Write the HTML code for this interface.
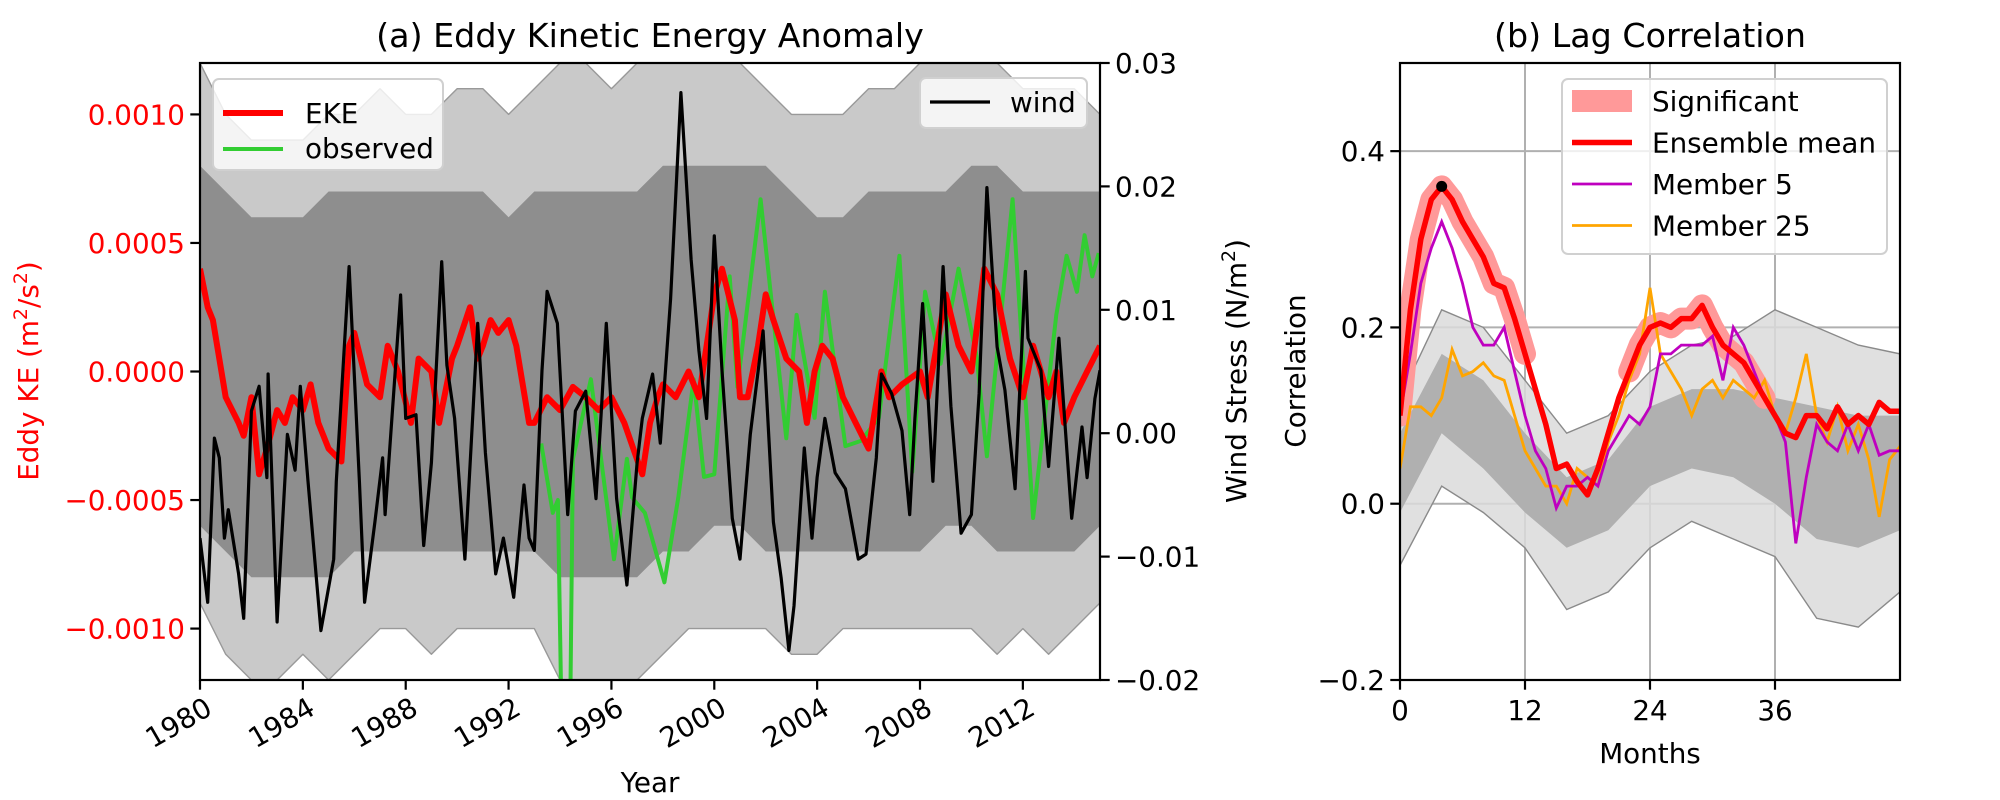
<!DOCTYPE html>
<html><head><meta charset="utf-8"><style>
html,body{margin:0;padding:0;background:#fff;}
svg{display:block;font-family:"DejaVu Sans","Liberation Sans",sans-serif;}
</style></head><body>
<svg id="fig" width="2000" height="800" viewBox="0 0 2000 800" xmlns="http://www.w3.org/2000/svg">
<rect width="2000" height="800" fill="#fff"/>
<g id="pa"></g>
<g id="pb"></g>
</svg>
<script>
// ---------- Panel (a) data ----------
const ensYears = [1980,1981,1982,1983,1984,1985,1986,1987,1988,1989,1990,1991,1992,1993,1994,1995,1996,1997,1998,1999,2000,2001,2002,2003,2004,2005,2006,2007,2008,2009,2010,2011,2012,2013,2014,2015];
const ensOuterHi = [12,10,9,9,9,10,10,11,10,10,11,11,10,11,12,12,11,12,12,12,12,12,11,10,10,10,11,11,12,12,12,12,11,11,11,10];
const ensOuterLo = [-9,-11,-12,-12,-11,-12,-11,-10,-10,-11,-10,-10,-10,-10,-12,-12,-12,-12,-11,-10,-10,-10,-10,-11,-11,-10,-10,-10,-10,-10,-10,-11,-10,-11,-10,-9];
const ensCoreHi = [8,7,6,6,6,7,7,7,7,7,7,7,6,7,7,7,7,7,8,8,8,8,8,7,6,6,7,7,7,7,8,8,7,7,7,7];
const ensCoreLo = [-6,-7,-8,-8,-8,-8,-7,-7,-7,-7,-7,-7,-7,-7,-8,-8,-8,-8,-7,-7,-6,-6,-7,-7,-7,-7,-7,-7,-7,-6,-6,-7,-7,-7,-7,-6];

const ekeT = [1980.0,1980.3,1980.5,1981.0,1981.5,1981.7,1982.0,1982.3,1982.6,1983.0,1983.3,1983.6,1984.0,1984.3,1984.6,1985.0,1985.5,1985.8,1986.0,1986.5,1987.0,1987.3,1987.7,1988.2,1988.5,1989.0,1989.3,1989.8,1990.0,1990.5,1990.8,1991.0,1991.3,1991.6,1992.0,1992.3,1992.8,1993.0,1993.5,1994.0,1994.5,1995.0,1995.5,1996.0,1996.5,1997.2,1997.5,1997.8,1998.0,1998.5,1999.0,1999.4,2000.0,2000.3,2000.8,2001.0,2001.3,2001.7,2002.0,2002.3,2002.8,2003.3,2003.6,2003.9,2004.2,2004.6,2005.0,2005.5,2006.0,2006.5,2006.8,2007.3,2008.0,2008.3,2009.0,2009.5,2010.0,2010.5,2011.0,2011.5,2012.0,2012.4,2013.0,2013.3,2013.6,2014.0,2014.5,2015.0];
const ekeV = [4,2.5,2,-1,-2,-2.5,-1,-4,-3,-1.5,-2,-1,-1.5,-0.5,-2,-3,-3.5,1,1.5,-0.5,-1,1,0,-2,0.5,0,-2,0.5,1,2.5,0.5,1,2,1.5,2,1,-2,-2,-1,-1.5,-0.6,-1,-1.5,-1,-2,-4,-2,-1,-0.5,-1,0,-1,3,4,2,-1,-1,1,3,2,0.5,0,-2,0,1,0.5,-1,-2,-3,0,-1,-0.5,0,-1,3,1,0,4,3,0.5,-1,1,-1,0,-2,-1,0,1];

const obsT = [1993.27,1993.72,1993.92,1994.05,1994.4,1994.5,1995.2,1995.6,1996.1,1996.6,1996.8,1997.3,1998.06,1998.6,1999.2,1999.6,2000.0,2000.6,2000.9,2001.8,2002.8,2003.2,2003.9,2004.3,2005.1,2005.7,2006.4,2007.2,2007.7,2008.2,2008.8,2009.5,2010.2,2010.6,2011.6,2012.4,2013.3,2013.7,2014.1,2014.4,2014.7,2014.95];
const obsV = [-2.8,-5.5,-5,-13,-13,-3.4,-0.3,-3.4,-7.3,-3.4,-4.9,-5.5,-8.2,-4.9,-0.3,-4.1,-4,3.7,-0.6,6.7,-2.6,2.2,-1.8,3.1,-2.9,-2.7,-1.8,4.5,-3.9,3.1,0.3,4,0.6,-3.3,6.7,-5.7,2.2,4.5,3.1,5.3,3.7,4.6];

const windT = [1980.0,1980.3,1980.56,1980.75,1980.95,1981.1,1981.5,1981.7,1982.0,1982.3,1982.6,1982.65,1983.0,1983.4,1983.7,1983.9,1984.2,1984.7,1985.2,1985.3,1985.8,1986.2,1986.4,1986.8,1987.1,1987.2,1987.8,1988.0,1988.4,1988.7,1989.0,1989.4,1989.6,1989.9,1990.3,1990.6,1990.8,1991.1,1991.5,1991.8,1992.2,1992.6,1992.8,1993.0,1993.3,1993.5,1993.9,1994.3,1994.6,1995.0,1995.4,1995.6,1995.8,1996.2,1996.6,1997.0,1997.2,1997.6,1997.9,1998.3,1998.7,1999.1,1999.4,1999.7,2000.0,2000.3,2000.7,2001.0,2001.4,2001.9,2002.3,2002.6,2002.9,2003.1,2003.5,2003.8,2004.0,2004.3,2004.7,2005.1,2005.6,2005.9,2006.3,2006.5,2006.9,2007.3,2007.6,2007.8,2008.1,2008.5,2008.9,2009.2,2009.6,2010.0,2010.3,2010.6,2011.0,2011.3,2011.7,2012.1,2012.2,2012.7,2013.0,2013.4,2013.9,2014.3,2014.5,2014.8,2015.0];
const windV = [-8.5,-13.7,-0.4,-2,-8.5,-6.2,-11.4,-15,1.8,3.8,-3.6,4.8,-15.3,-0.1,-3,3.8,-3.9,-16,-10.2,-3.9,13.5,-3.9,-13.7,-7.2,-2,-6.6,11.2,1.2,1.5,-9.1,-2.4,13.9,5.5,1.2,-10.2,1.2,8.9,-1.6,-11.4,-8.5,-13.3,-4.2,-8.5,-9.5,5.1,11.5,8.9,-6.6,1.8,3.4,-5.3,1.5,8.9,-5.3,-12.3,-2.4,1.2,4.8,-0.8,10.9,27.6,14.1,6.7,1.2,16,5.1,-6.9,-10.2,-0.1,8.3,-7.2,-11.7,-17.6,-14,-1.2,-8.5,-3.6,1.2,-3.2,-4.5,-10.2,-9.8,-2,4.8,3.2,0.2,-6.6,1.2,10.5,-3.9,13.5,2.2,-8.1,-6.6,3.2,19.9,7,3.5,-4.5,13.1,7.7,5.1,-2.7,7.7,-6.9,0.5,-3.6,2.8,5.1];

const yearTicks = [1980,1984,1988,1992,1996,2000,2004,2008,2012];
const ekeTicks = [-10,-5,0,5,10];
const ekeTickLabels = ["\u22120.0010","\u22120.0005","0.0000","0.0005","0.0010"];
const windTicks = [-20,-10,0,10,20,30];
const windTickLabels = ["\u22120.02","\u22120.01","0.00","0.01","0.02","0.03"];

// ---------- Panel (b) data ----------
const lags = [0,1,2,3,4,5,6,7,8,9,10,11,12,13,14,15,16,17,18,19,20,21,22,23,24,25,26,27,28,29,30,31,32,33,34,35,36,37,38,39,40,41,42,43,44,45,46,47,48];
const meanCorr = [0.10,0.22,0.30,0.345,0.36,0.345,0.32,0.30,0.28,0.25,0.245,0.21,0.17,0.13,0.09,0.04,0.045,0.025,0.01,0.04,0.08,0.12,0.15,0.18,0.20,0.205,0.20,0.21,0.21,0.225,0.20,0.18,0.17,0.16,0.14,0.12,0.10,0.08,0.075,0.10,0.10,0.085,0.11,0.09,0.10,0.09,0.115,0.105,0.105];
const significant = [1,1,1,1,1,1,1,1,1,1,1,1,1,0,0,0,0,0,0,0,0,0,1,1,1,1,1,1,1,1,1,1,1,1,1,1,0,0,0,0,0,0,0,0,0,0,0,0,0];
const member5 = [0.10,0.17,0.25,0.29,0.32,0.29,0.25,0.20,0.18,0.18,0.20,0.15,0.10,0.06,0.04,-0.005,0.02,0.02,0.03,0.02,0.06,0.08,0.10,0.09,0.11,0.17,0.17,0.18,0.18,0.18,0.19,0.14,0.20,0.18,0.15,0.12,0.10,0.07,-0.045,0.03,0.09,0.07,0.06,0.09,0.06,0.09,0.055,0.06,0.06];
const member25 = [0.04,0.11,0.11,0.10,0.12,0.175,0.145,0.15,0.16,0.145,0.14,0.10,0.06,0.04,0.02,0.02,0.00,0.04,0.03,0.02,0.07,0.10,0.14,0.17,0.245,0.17,0.15,0.13,0.10,0.13,0.14,0.12,0.14,0.13,0.12,0.14,0.10,0.08,0.12,0.17,0.10,0.07,0.11,0.06,0.09,0.05,-0.015,0.05,0.065];
const envLags = [0,4,8,12,16,20,24,28,32,36,40,44,48];
const envHi = [0.12,0.22,0.20,0.14,0.08,0.10,0.15,0.18,0.19,0.22,0.20,0.18,0.17];
const envLo = [-0.07,0.02,-0.01,-0.05,-0.12,-0.10,-0.05,-0.02,-0.04,-0.06,-0.13,-0.14,-0.10];
const envCoreHi = [0.08,0.17,0.14,0.08,0.03,0.05,0.11,0.13,0.13,0.12,0.11,0.10,0.10];
const envCoreLo = [-0.01,0.08,0.04,-0.01,-0.05,-0.03,0.02,0.04,0.03,0.00,-0.04,-0.05,-0.03];
const lagTicks = [0,12,24,36];
const corrTicks = [-0.2,0,0.2,0.4];
const corrTickLabels = ["\u22120.2","0.0","0.2","0.4"];

// ---------- helpers ----------
const NS = "http://www.w3.org/2000/svg";
function mk(parent, tag, attrs, text){
  const e = document.createElementNS(NS, tag);
  for (const k in attrs) e.setAttribute(k, attrs[k]);
  if (text !== undefined) e.textContent = text;
  parent.appendChild(e);
  return e;
}
const AX0=200, AX1=1100, AY0=63, AY1=680;
const xA = t => AX0 + (t-1980)/35*(AX1-AX0);
const yE = v => AY0 + (12 - v)/24*(AY1-AY0);
const yW = w => AY0 + (30 - w)/50*(AY1-AY0);
const BX0=1400, BX1=1900;
const xB = m => BX0 + m/48*(BX1-BX0);
const yB = c => AY0 + (0.5 - c)/0.7*(AY1-AY0);

function pathFrom(xs, ys, fx, fy){
  return xs.map((x,i)=> (i?'L':'M') + fx(x).toFixed(1) + ',' + fy(ys[i]).toFixed(1)).join('');
}
function bandFrom(xs, hi, lo, fx, fy){
  let d = xs.map((x,i)=> (i?'L':'M') + fx(x).toFixed(1)+','+fy(hi[i]).toFixed(1)).join('');
  for (let i=xs.length-1;i>=0;i--) d += 'L'+fx(xs[i]).toFixed(1)+','+fy(lo[i]).toFixed(1);
  return d+'Z';
}

// ================= Panel A =================
const pa = document.getElementById('pa');
mk(pa,'defs',{}).innerHTML = '<clipPath id="clipA"><rect x="200" y="63" width="900" height="617"/></clipPath><clipPath id="clipB"><rect x="1400" y="63" width="500" height="617"/></clipPath>';
const plotA = mk(pa,'g',{'clip-path':'url(#clipA)'});



const outerA = mk(plotA,'path',{d:bandFrom(ensYears,ensOuterHi,ensOuterLo,xA,yE),fill:'#c9c9c9',stroke:'#999','stroke-width':1.4,'stroke-linejoin':'round'});


const coreA = mk(plotA,'path',{d:bandFrom(ensYears,ensCoreHi,ensCoreLo,xA,yE),fill:'#8e8e8e',stroke:'none'});



const obsLine = mk(plotA,'path',{d:pathFrom(obsT,obsV,xA,yE),fill:'none',stroke:'#32cd32','stroke-width':4,'stroke-linejoin':'round'});


const ekeLine = mk(plotA,'path',{d:pathFrom(ekeT,ekeV,xA,yE),fill:'none',stroke:'#ff0000','stroke-width':6,'stroke-linejoin':'round'});


const windLine = mk(plotA,'path',{d:pathFrom(windT,windV,xA,yW),fill:'none',stroke:'#000','stroke-width':3.2,'stroke-linejoin':'round'});



const frameA = mk(pa,'rect',{x:AX0,y:AY0,width:AX1-AX0,height:AY1-AY0,fill:'none',stroke:'#000','stroke-width':2.2});



yearTicks.forEach(t=>{
  const x = xA(t);
  const tk = mk(pa,'line',{x1:x,y1:AY1,x2:x,y2:AY1+9.7,stroke:'#000','stroke-width':2.2});
  
  
  const lb = mk(pa,'text',{x:0,y:0,'font-size':27.8,'text-anchor':'end',transform:`translate(${x+4},${AY1+16}) rotate(-30) translate(0,20)`},String(t));
  
  
});
ekeTicks.forEach((v,i)=>{
  const y = yE(v);
  const tk = mk(pa,'line',{x1:AX0-9.7,y1:y,x2:AX0,y2:y,stroke:'#000','stroke-width':2.2});
  
  
  const lb = mk(pa,'text',{x:AX0-15,y:y+10,'font-size':27.8,'text-anchor':'end',fill:'#ff0000'},ekeTickLabels[i]);
  
  
});
windTicks.forEach((v,i)=>{
  const y = yW(v);
  const tk = mk(pa,'line',{x1:AX1,y1:y,x2:AX1+9.7,y2:y,stroke:'#000','stroke-width':2.2});
  
  
  const lb = mk(pa,'text',{x:AX1+15,y:y+10,'font-size':27.8,'text-anchor':'start'},windTickLabels[i]);
  
  
});

const tA = mk(pa,'text',{x:650,y:47,'font-size':33.3,'text-anchor':'middle'},'(a) Eddy Kinetic Energy Anomaly');


const xlA = mk(pa,'text',{x:650,y:792,'font-size':27.8,'text-anchor':'middle'},'Year');


const ylA = mk(pa,'text',{x:0,y:0,'font-size':27.8,'text-anchor':'middle',fill:'#ff0000',transform:'translate(38,371) rotate(-90)'});
ylA.innerHTML = 'Eddy KE (m<tspan baseline-shift="super" font-size="19">2</tspan>/s<tspan baseline-shift="super" font-size="19">2</tspan>)';


const ylW = mk(pa,'text',{x:0,y:0,'font-size':27.8,'text-anchor':'middle',transform:'translate(1246,371) rotate(-90)'});
ylW.innerHTML = 'Wind Stress (N/m<tspan baseline-shift="super" font-size="19">2</tspan>)';



const legA = mk(pa,'g',{});


mk(legA,'rect',{x:213,y:79,width:230,height:91,rx:6,fill:'#fff','fill-opacity':0.8,stroke:'#d0d0d0','stroke-width':2});
const le1 = mk(legA,'line',{x1:223,y1:113,x2:283,y2:113,stroke:'#ff0000','stroke-width':6});


const lt1 = mk(legA,'text',{x:305,y:123,'font-size':27.8},'EKE');


const le2 = mk(legA,'line',{x1:223,y1:149,x2:283,y2:149,stroke:'#32cd32','stroke-width':4});


const lt2 = mk(legA,'text',{x:305,y:158,'font-size':27.8},'observed');



const legW = mk(pa,'g',{});


mk(legW,'rect',{x:920,y:78,width:167,height:50,rx:6,fill:'#fff','fill-opacity':0.8,stroke:'#d0d0d0','stroke-width':2});
const lw1 = mk(legW,'line',{x1:930,y1:102,x2:990,y2:102,stroke:'#000','stroke-width':3.2});


const lwt = mk(legW,'text',{x:1010,y:112,'font-size':27.8},'wind');



// ================= Panel B =================
const pb = document.getElementById('pb');
const plotB = mk(pb,'g',{'clip-path':'url(#clipB)'});



lagTicks.forEach(m=>{
  const g = mk(plotB,'line',{x1:xB(m),y1:AY0,x2:xB(m),y2:AY1,stroke:'#b0b0b0','stroke-width':2});
  
  
});
corrTicks.forEach(c=>{
  const g = mk(plotB,'line',{x1:BX0,y1:yB(c),x2:BX1,y2:yB(c),stroke:'#b0b0b0','stroke-width':2});
  
  
});

const envB = mk(plotB,'path',{d:bandFrom(envLags,envHi,envLo,xB,yB),fill:'#dadada','fill-opacity':0.85,stroke:'#8a8a8a','stroke-width':1.4});


const coreB = mk(plotB,'path',{d:bandFrom(envLags,envCoreHi,envCoreLo,xB,yB),fill:'#b0b0b0',stroke:'none'});



let seg = [];
const segs = [];
lags.forEach((m,i)=>{
  if (significant[i]) seg.push(i); else { if (seg.length) segs.push(seg); seg=[]; }
});
if (seg.length) segs.push(seg);
segs.forEach(s=>{
  const h = mk(plotB,'path',{d:pathFrom(s.map(i=>lags[i]),s.map(i=>meanCorr[i]),xB,yB),fill:'none',stroke:'#ff9999','stroke-width':22,'stroke-linejoin':'round','stroke-linecap':'round'});
  
  
});
const m25 = mk(plotB,'path',{d:pathFrom(lags,member25,xB,yB),fill:'none',stroke:'#ffa500','stroke-width':2.8});


const m5 = mk(plotB,'path',{d:pathFrom(lags,member5,xB,yB),fill:'none',stroke:'#bf00bf','stroke-width':2.8});


const mm = mk(plotB,'path',{d:pathFrom(lags,meanCorr,xB,yB),fill:'none',stroke:'#ff0000','stroke-width':5.5,'stroke-linejoin':'round'});


let pk = 0; meanCorr.forEach((v,i)=>{ if (v>meanCorr[pk]) pk=i; });
const pkDot = mk(plotB,'circle',{cx:xB(lags[pk]),cy:yB(meanCorr[pk]),r:5.5,fill:'#000'});



const frameB = mk(pb,'rect',{x:BX0,y:AY0,width:BX1-BX0,height:AY1-AY0,fill:'none',stroke:'#000','stroke-width':2.2});



lagTicks.forEach(m=>{
  const x = xB(m);
  const tk = mk(pb,'line',{x1:x,y1:AY1,x2:x,y2:AY1+9.7,stroke:'#000','stroke-width':2.2});
  
  
  const lb = mk(pb,'text',{x:x,y:AY1+40,'font-size':27.8,'text-anchor':'middle'},String(m));
  
  
});
corrTicks.forEach((c,i)=>{
  const y = yB(c);
  const tk = mk(pb,'line',{x1:BX0-9.7,y1:y,x2:BX0,y2:y,stroke:'#000','stroke-width':2.2});
  
  
  const lb = mk(pb,'text',{x:BX0-15,y:y+10,'font-size':27.8,'text-anchor':'end'},corrTickLabels[i]);
  
  
});
const tB = mk(pb,'text',{x:1650,y:47,'font-size':33.3,'text-anchor':'middle'},'(b) Lag Correlation');


const xlB = mk(pb,'text',{x:1650,y:763,'font-size':27.8,'text-anchor':'middle'},'Months');


const ylB = mk(pb,'text',{x:0,y:0,'font-size':27.8,'text-anchor':'middle',transform:'translate(1305,371) rotate(-90)'},'Correlation');



const legB = mk(pb,'g',{});


mk(legB,'rect',{x:1562,y:79,width:325,height:175,rx:6,fill:'#fff','fill-opacity':0.8,stroke:'#d0d0d0','stroke-width':2});
const legItems = [['Significant','#ff9999',22],['Ensemble mean','#ff0000',5.5],['Member 5','#bf00bf',2.8],['Member 25','#ffa500',2.8]];
legItems.forEach((it,i)=>{
  const y = 101 + i*41.5;
  const sw = mk(legB,'line',{x1:1572,y1:y,x2:1632,y2:y,stroke:it[1],'stroke-width':it[2]});
  
  
  const tx = mk(legB,'text',{x:1652,y:y+10,'font-size':27.8},it[0]);
  
  
});
</script>
</body></html>
